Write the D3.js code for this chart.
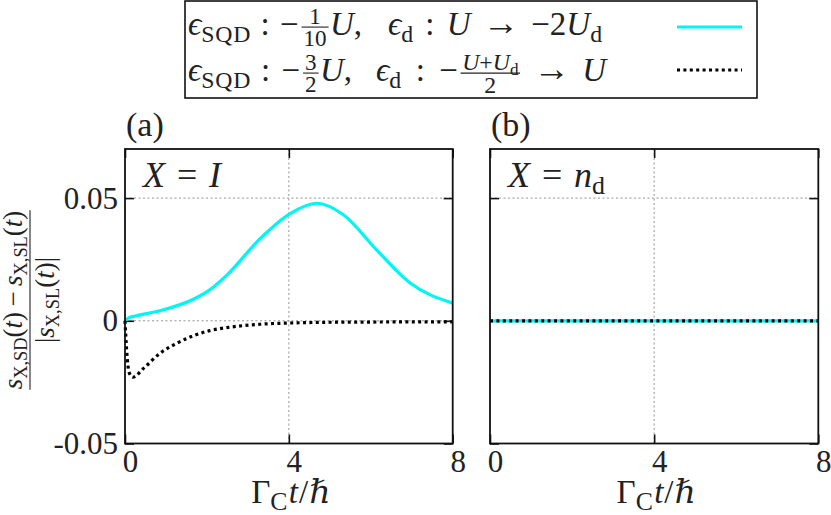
<!DOCTYPE html>
<html><head><meta charset="utf-8">
<script src="https://cdn.jsdelivr.net/npm/d3@7"></script>
<style>
html,body{margin:0;padding:0;background:#fff;}
svg{display:block;}
text{fill:#222;font-family:'Liberation Serif','DejaVu Serif',serif;}
</style></head>
<body>
<svg id="chart" width="831" height="515"></svg>
<script>
// ---------- data ----------
const xTicks = [0, 4, 8];
const yTicks = [-0.05, 0, 0.05];
const xDomain = [0, 8];
const yDomain = [-0.05, 0.07];

// Panel (a): X = I
const tCyanA = [0, 0.1, 0.3, 0.85, 1.67, 2.07, 2.48, 3.3, 4.03, 4.68, 5.33, 6.14, 6.96, 8];
const vCyanA = [0, 0.0013, 0.0021, 0.0041, 0.0088, 0.0126, 0.0185, 0.0335, 0.0437, 0.0479, 0.0432, 0.0289, 0.0154, 0.0072];
const tDotA  = [0, 0.04, 0.1, 0.19, 0.45, 0.85, 1.26, 1.67, 2.07, 2.48, 3.3, 4.03, 5, 6.14, 8];
const vDotA  = [0, -0.012, -0.021, -0.023, -0.0194, -0.0133, -0.0092, -0.0061, -0.004, -0.0028, -0.0014, -0.0009, -0.0006, -0.0005, -0.0004];

// Panel (b): X = n_d
const tCyanB = [0, 2, 4, 6, 8];
const vCyanB = [0, 0, 0, 0, 0];
const tDotB  = [0, 2, 4, 6, 8];
const vDotB  = [0, 0, 0, 0, 0];

// ---------- helpers ----------
const svg = d3.select('#chart');
const CYAN = '#00f5f5';

function lay(g, toks, x, y, fs, ss) {
  ss = ss || 0.72;
  const x0 = x;
  toks.forEach(tk => {
    if (tk.sp != null) { x += tk.sp * fs; return; }
    if (tk.frac) {
      const sc = tk.scale || 0.7, nfs = fs * sc;
      const gn = g.append('g'), gd = g.append('g');
      const wn = lay(gn, tk.frac[0], 0, 0, nfs, ss);
      const wd = lay(gd, tk.frac[1], 0, 0, nfs, ss);
      const pad = (tk.pad != null ? tk.pad : 0.1) * fs;
      const w = Math.max(wn, wd) + 2 * pad;
      const ax = y - (tk.axis != null ? tk.axis : 0.24) * fs;
      const nb = ax - (tk.ngap != null ? tk.ngap : 0.1) * fs;
      const db = ax + (tk.dgap != null ? tk.dgap : 0.1) * fs + 0.68 * nfs;
      gn.attr('transform', `translate(${x + (w - wn) / 2},${nb})`);
      gd.attr('transform', `translate(${x + (w - wd) / 2},${db})`);
      g.append('line').attr('x1', x + pad * 0.4).attr('x2', x + w - pad * 0.4)
        .attr('y1', ax).attr('y2', ax).attr('stroke', '#222').attr('stroke-width', tk.bw || 1.1);
      x += w; return;
    }
    const s = (tk.sub ? fs * ss : fs) * (tk.sz || 1);
    const t = g.append('text').attr('x', x).attr('y', y + (tk.sub ? 0.2 * fs : 0))
      .attr('font-size', s).attr('font-style', tk.it ? 'italic' : 'normal').text(tk.s);
    if (tk.ls) t.attr('letter-spacing', tk.ls);
    x += t.node().getComputedTextLength();
  });
  return x - x0;
}

// lay a run of math so that it spans exactly [x0, x1] by adjusting its spaces
function layFit(g, toks, x0, x1, y, fs) {
  const tmp = g.append('g');
  const w0 = lay(tmp, toks, x0, y, fs);
  tmp.remove();
  const spTot = d3.sum(toks, t => t.sp != null ? t.sp * fs : 0);
  const k = Math.max(0.6, Math.min(1.8, (spTot + (x1 - x0) - w0) / spTot));
  lay(g, toks.map(t => t.sp != null ? {sp: t.sp * k} : t), x0, y, fs);
}

// ---------- legend ----------
const leg = svg.append('g');
leg.append('rect').attr('x', 185).attr('y', 1).attr('width', 572).attr('height', 97)
  .attr('fill', 'none').attr('stroke', '#111').attr('stroke-width', 1.6);
const LFS = 33;
const row1a = [
  {s:'ϵ', it:1}, {s:'SQD', sub:1, ls:0.8}, {sp:0.35}, {s:':'}, {sp:0.4}, {s:'−'}, {sp:0.06},
  {frac:[[{s:'1'}],[{s:'10'}]], scale:0.7}, {s:'U', it:1}, {s:','}
];
const row1b = [
  {s:'ϵ', it:1}, {s:'d', sub:1}, {sp:0.35}, {s:':'}, {sp:0.35}, {s:'U', it:1}, {sp:0.35},
  {s:'→', sz:1.1}, {sp:0.35}, {s:'−'}, {s:'2'}, {s:'U', it:1}, {s:'d', sub:1}
];
const row2a = [
  {s:'ϵ', it:1}, {s:'SQD', sub:1, ls:0.8}, {sp:0.35}, {s:':'}, {sp:0.4}, {s:'−'}, {sp:0.06},
  {frac:[[{s:'3'}],[{s:'2'}]], scale:0.7}, {s:'U', it:1}, {s:','}
];
const row2b = [
  {s:'ϵ', it:1}, {s:'d', sub:1}, {sp:0.35}, {s:':'}, {sp:0.35}, {s:'−'}, {sp:0.04},
  {frac:[[{s:'U', it:1}, {s:'+'}, {s:'U', it:1}, {s:'d', sub:1}],[{s:'2'}]], scale:0.72, pad:0.08}, {sp:0.3},
  {s:'→', sz:1.1}, {sp:0.3}, {s:'U', it:1}
];
layFit(leg.append('g'), row1a, 188, 362, 35, LFS);
layFit(leg.append('g'), row1b, 388, 602, 35, LFS);
layFit(leg.append('g'), row2a, 188, 352, 81, LFS);
layFit(leg.append('g'), row2b, 376, 606, 81, LFS);
leg.append('line').attr('x1', 677).attr('x2', 742).attr('y1', 27).attr('y2', 27)
  .attr('stroke', CYAN).attr('stroke-width', 3.2);
leg.append('line').attr('x1', 677).attr('x2', 742).attr('y1', 70).attr('y2', 70)
  .attr('stroke', '#000').attr('stroke-width', 3.2).attr('stroke-dasharray', '3,3.4');

// ---------- panels ----------
const TOP = 149, BOT = 443.5;
const panels = [
  {x0:125, x1:452.7, label:'(a)', tag:[{s:'X', it:1}, {sp:0.33}, {s:'='}, {sp:0.33}, {s:'I', it:1}],
   cyan:[tCyanA, vCyanA], dot:[tDotA, vDotA], yLabels:true},
  {x0:490, x1:818.3, label:'(b)', tag:[{s:'X', it:1}, {sp:0.33}, {s:'='}, {sp:0.33}, {s:'n', it:1}, {s:'d', sub:1}],
   cyan:[tCyanB, vCyanB], dot:[tDotB, vDotB], yLabels:false}
];

panels.forEach(p => {
  const x = d3.scaleLinear().domain(xDomain).range([p.x0, p.x1]);
  const y = d3.scaleLinear().domain(yDomain).range([BOT, TOP]);
  const g = svg.append('g');

  // grid
  g.selectAll('.gy').data([0, 0.05]).join('line')
    .attr('x1', p.x0).attr('x2', p.x1).attr('y1', d => y(d)).attr('y2', d => y(d))
    .attr('stroke', '#888').attr('stroke-width', 0.9).attr('stroke-dasharray', '2,2.5');
  g.selectAll('.gx').data([4]).join('line')
    .attr('x1', d => x(d)).attr('x2', d => x(d)).attr('y1', TOP).attr('y2', BOT)
    .attr('stroke', '#888').attr('stroke-width', 0.9).attr('stroke-dasharray', '2,2.5');

  // axes
  const yl = g.append('g').attr('transform', `translate(${p.x0},0)`)
    .call(d3.axisLeft(y).tickValues(yTicks).tickSize(-9).tickPadding(7)
      .tickFormat(d => p.yLabels ? (d === 0 ? '0' : d.toFixed(2)) : ''));
  const yr = g.append('g').attr('transform', `translate(${p.x1},0)`)
    .call(d3.axisRight(y).tickValues(yTicks).tickSize(-9).tickFormat(''));
  const xb = g.append('g').attr('transform', `translate(0,${BOT})`)
    .call(d3.axisBottom(x).tickValues(xTicks).tickSize(-9).tickPadding(6).tickFormat(d3.format('d')));
  const xt = g.append('g').attr('transform', `translate(0,${TOP})`)
    .call(d3.axisTop(x).tickValues(xTicks).tickSize(-9).tickFormat(''));
  [yl, yr, xb, xt].forEach(a => {
    a.select('.domain').remove();
    a.selectAll('.tick line').attr('stroke', '#111').attr('stroke-width', 1.6);
    a.selectAll('text').attr('font-size', 31).attr('fill', '#222')
      .attr('font-family', "'Liberation Serif','DejaVu Serif',serif");
  });
  xb.selectAll('text').attr('dx', 5);

  // curves
  const line = d3.line().x(d => x(d[0])).y(d => y(d[1])).curve(d3.curveMonotoneX);
  g.append('path').datum(d3.zip(p.cyan[0], p.cyan[1])).attr('d', line)
    .attr('fill', 'none').attr('stroke', CYAN).attr('stroke-width', 3.2);
  g.append('path').datum(d3.zip(p.dot[0], p.dot[1])).attr('d', line)
    .attr('fill', 'none').attr('stroke', '#000').attr('stroke-width', 3.2).attr('stroke-dasharray', '3,3.4');

  // frame
  g.append('rect').attr('x', p.x0).attr('y', TOP).attr('width', p.x1 - p.x0).attr('height', BOT - TOP)
    .attr('fill', 'none').attr('stroke', '#111').attr('stroke-width', 1.8);

  // labels
  g.append('text').attr('x', p.x0 + 1).attr('y', 136).attr('font-size', 34).text(p.label);
  lay(g.append('g'), p.tag, p.x0 + 18, 187, 36);

  // x title
  const tg = g.append('g');
  const w = lay(tg, [{s:'Γ'}, {s:'C', sub:1}, {sp:0.04}, {s:'t', it:1}, {sp:0.03}, {s:'/'}, {sp:0.03}, {s:'ℏ', it:1}], 0, 0, 33, 0.78);
  tg.attr('transform', `translate(${(p.x0 + p.x1) / 2 - w / 2 + 2},503)`);
});

// ---------- y label (rotated fraction) ----------
const yg = svg.append('g').attr('transform', 'translate(30,300) rotate(-90)');
const inner = yg.append('g');
const YFS = 27;
const num = [{s:'s', it:1}, {s:'X,SD', sub:1}, {s:'('}, {s:'t', it:1}, {s:')'},
  {sp:0.2}, {s:'−'}, {sp:0.2}, {s:'s', it:1}, {s:'X,SL', sub:1}, {s:'('}, {s:'t', it:1}, {s:')'}];
const den = [{s:'|'}, {s:'s', it:1}, {s:'X,SL', sub:1}, {s:'('}, {s:'t', it:1}, {s:')'}, {s:'|'}];
const fw = lay(inner, [{frac:[num, den], scale:1, ngap:0.3, dgap:0.2, pad:0.03, axis:0.27}], 0, 0.27 * YFS, YFS, 0.68);
inner.attr('transform', `translate(${-fw / 2},0)`);
</script>
</body></html>
